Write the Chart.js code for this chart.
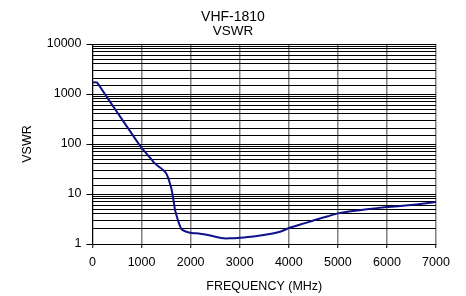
<!DOCTYPE html>
<html>
<head>
<meta charset="utf-8">
<script src="https://cdn.jsdelivr.net/npm/chart.js@4/dist/chart.umd.min.js"></script>
<style>
  html, body { margin: 0; padding: 0; background: #fff; }
  #wrap { width: 466px; height: 296px; position: relative; }
</style>
</head>
<body>
<div id="wrap"><canvas id="c" width="466" height="296"></canvas></div>
<script>
const titleText = 'VHF-1810';
const subtitleText = 'VSWR';
const xTitle = 'FREQUENCY (MHz)';
const yTitle = 'VSWR';
const frequency = [0, 90, 300, 500, 765, 1000, 1036, 1140, 1240, 1340, 1444, 1500, 1546, 1580, 1614, 1650, 1682, 1720, 1750, 1790, 1818, 1900, 1988, 2192, 2400, 2550, 2667, 2800, 3007, 3280, 3550, 3823, 4030, 4230, 4434, 4570, 4800, 5000, 5300, 5590, 6000, 6270, 6600, 7000];
const vswr      = [1700, 1700, 847, 436, 181, 83, 76, 58, 44, 36, 30, 26, 20.6, 16, 12, 7.5, 4.8, 3.5, 2.8, 2.2, 1.95, 1.78, 1.68, 1.6, 1.48, 1.36, 1.3, 1.3, 1.34, 1.42, 1.55, 1.76, 2.14, 2.45, 2.8, 3.1, 3.6, 4.1, 4.55, 4.94, 5.5, 5.75, 6.2, 6.9];
const xTicks = [0, 1000, 2000, 3000, 4000, 5000, 6000, 7000];
const yMajor = [1, 10, 100, 1000, 10000];

const points = frequency.map((f, i) => ({ x: f, y: vswr[i] }));
const isMajor = v => yMajor.some(m => Math.abs(m - v) < 1e-9 * m);
const FONT = '"Liberation Sans", Arial, sans-serif';

new Chart(document.getElementById('c'), {
  type: 'line',
  data: {
    datasets: [{
      data: points,
      borderColor: '#10108a',
      borderWidth: 2,
      pointRadius: 0,
      fill: false,
      tension: 0.15
    }]
  },
  options: {
    responsive: false,
    animation: false,
    devicePixelRatio: 1,
    layout: { padding: { left: 0, right: 0, top: 0, bottom: 0 } },
    plugins: {
      legend: { display: false },
      tooltip: { enabled: false },
      title: {
        display: true,
        text: titleText,
        color: '#000',
        font: { family: FONT, size: 14, weight: 'normal', lineHeight: 1.0 },
        padding: { top: 10, bottom: 0 }
      },
      subtitle: {
        display: true,
        text: subtitleText,
        color: '#000',
        font: { family: '"Liberation Sans Narrow", ' + FONT, size: 13.5, weight: 'normal', lineHeight: 1.0 },
        padding: { top: 0.5, bottom: 6 }
      }
    },
    scales: {
      x: {
        type: 'linear',
        min: 0, max: 7000,
        afterBuildTicks: s => { s.ticks = xTicks.map(v => ({ value: v })); },
        afterFit: s => { s.height = 52; },
        ticks: {
          color: '#000',
          font: { family: FONT, size: 12.5 },
          padding: 7,
          maxRotation: 0,
          autoSkip: false,
          callback: v => String(v)
        },
        grid: { color: '#808080', lineWidth: 1.5, tickLength: 4, tickColor: '#000', tickWidth: 1 },
        border: { color: '#000', width: 1 },
        title: {
          display: true, text: xTitle, color: '#000',
          font: { family: FONT, size: 12.5 },
          padding: { top: 0, bottom: 2 }
        }
      },
      y: {
        type: 'logarithmic',
        min: 1, max: 10000,
        afterFit: s => { s.width = 92.5; },
        ticks: {
          color: '#000',
          font: { family: FONT, size: 12.5 },
          padding: 5,
          autoSkip: false,
          callback: v => isMajor(v) ? String(Math.round(v)) : ''
        },
        grid: {
          color: '#000', lineWidth: 1, tickLength: 6,
          tickColor: ctx => (ctx.tick && isMajor(ctx.tick.value)) ? '#000' : 'rgba(0,0,0,0)'
        },
        border: { color: '#000', width: 1 },
        title: {
          display: true, text: yTitle, color: '#000',
          font: { family: FONT, size: 12.5 },
          padding: { top: 20, bottom: 0 }
        }
      },
      rightSpace: {
        type: 'linear',
        position: 'right',
        display: true,
        afterFit: s => { s.width = 30; },
        ticks: { display: false },
        grid: { display: false, drawTicks: false },
        border: { display: false }
      }
    }
  }
});
</script>
</body>
</html>
